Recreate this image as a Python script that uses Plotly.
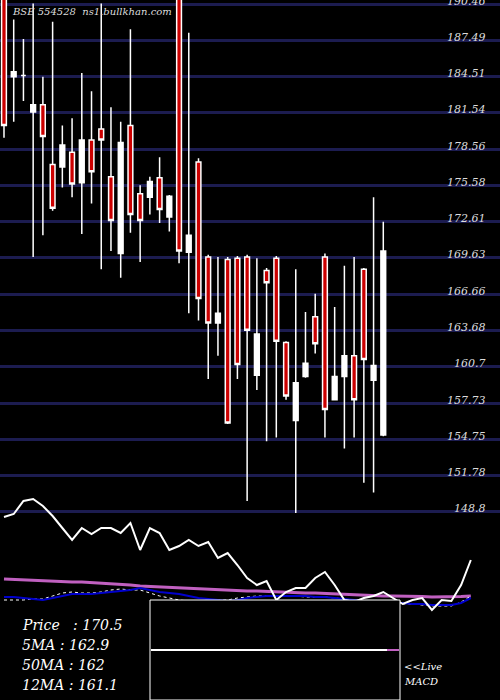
import plotly.graph_objects as go

opens  = [191,184.5,184.6,181.6,182.2,177.3,177.1,178.3,175.8,179.3,180.2,176.3,170.0,180.5,174.9,174.6,176.2,173.0,191,170.1,
          177.5,169.7,164.3,169.5,169.6,169.7,160.0,168.6,169.6,162.7,156.3,159.9,164.8,169.7,158.0,159.9,161.6,168.7,159.6,155.1]
closes = [180.5,184.9,184.6,182.2,179.6,173.7,178.9,175.7,179.3,176.7,179.3,172.7,179.1,173.2,172.7,175.9,173.6,174.7,170.2,171.5,
          166.3,164.3,165.1,156.1,160.9,163.7,163.4,167.6,162.8,158.3,159.4,161.0,162.6,157.2,159.9,161.6,158.0,161.3,160.8,170.2]
highs  = [193,189.2,187.6,190.5,184.5,189,180.5,181.1,184.8,183.3,190.5,182,180.8,188.4,175.6,176.3,177.9,174.8,193,188.1,
          177.8,169.9,169.7,169.7,169.8,169.9,169.6,168.8,169.8,162.8,168.7,165.2,166.7,170.0,165.6,169.0,169.7,168.8,174.6,172.6]
lows   = [179.5,180.8,182.5,169.7,171.5,173.5,175.4,174.6,171.6,174.1,168.7,170.2,168.0,171.7,169.3,173.2,172.5,171.8,169.2,165.1,
          164.5,159.7,161.6,156.0,159.7,149.7,158.8,154.6,154.9,158.0,148.7,159.8,161.8,154.9,158.0,154.0,154.9,151.2,150.4,155.0]
ticks = [190.46,187.49,184.51,181.54,178.56,175.58,172.61,169.63,166.66,163.68,160.7,157.73,154.75,151.78,148.8]

# lower indicator panel (values in panel units, larger = lower)
ind_x = list(range(49))
osc_white = [517,514,501,499,506,516,528,540,528,534,528,528,533,523,550,528,533,550,546,540,546,542,558,553,565,578,585,581,600,592,
             588,588,578,572,585,600,602,598,596,592,598,604,600,598,610,600,601,585,560]
ma_magenta = [579,579.5,580,580.5,581,581.5,582,582,582,582.5,583,583.5,584,585,586,586.5,587,587.5,588,588.5,589,589.5,590,590,590.5,
              591,591,591.5,592,592,592.5,593,593,593.5,594,594.5,595,595,595.5,596,596,596,596.5,596.5,597,597,597,596.5,596]
ma_blue = [597,597,598,599,600,598,596,594,594,594,593,592,591,590,588,590,592,593,594,596,598,599,600,601,600,598,597,596,596,596,
           596,596,597,597,598,599,600,601,601,602,603,603,604,604,605,605,605,603,598]
sig_dotted = [600,600,600,599,599,596,593,592,593,593,592,590,589,590,590,593,596,598,600,601,601,600,600,600,598,597,596,596,596,596,
              596,597,597,597,598,599,600,601,602,602,603,604,604,605,606,606,606,602,596]

labels = ["Price   : 170.5", "5MA : 162.9", "50MA : 162", "12MA : 161.1"]

fig = go.Figure()
fig.add_trace(go.Candlestick(x=list(range(len(opens))), open=opens, high=highs, low=lows, close=closes,
    increasing=dict(line=dict(color="white", width=1.5), fillcolor="white"),
    decreasing=dict(line=dict(color="white", width=1.5), fillcolor="#cc0000"),
    whiskerwidth=0, showlegend=False, hoverinfo="skip"))
fig.add_trace(go.Scatter(x=ind_x, y=ma_magenta, yaxis="y2", mode="lines", line=dict(color="#c060c0", width=3), showlegend=False))
fig.add_trace(go.Scatter(x=ind_x, y=sig_dotted, yaxis="y2", mode="lines", line=dict(color="white", width=1, dash="dot"), showlegend=False))
fig.add_trace(go.Scatter(x=ind_x, y=ma_blue, yaxis="y2", mode="lines", line=dict(color="#0000cc", width=2), showlegend=False))
fig.add_trace(go.Scatter(x=ind_x, y=osc_white, yaxis="y2", mode="lines", line=dict(color="white", width=2), showlegend=False))

serif = "DejaVu Serif"
ann = [dict(x=10/500, y=1-12/700, xref="paper", yref="paper", xanchor="left", yanchor="middle", showarrow=False,
            text="BSE 554528  ns1.bullkhan.com", font=dict(family=serif, size=10, color="#dddddd", style="italic"))]
for t in ticks:
    ann.append(dict(x=488/500, y=t, xref="paper", yref="y", xanchor="right", yanchor="middle", yshift=3, showarrow=False,
                    text=str(t), font=dict(family=serif, size=11, color="#dddddd", style="italic")))
for i, t in enumerate(labels):
    ann.append(dict(x=20/500, y=1-(625+20*i)/700, xref="paper", yref="paper", xanchor="left", yanchor="middle",
                    showarrow=False, text=t, font=dict(family=serif, size=14, color="white", style="italic")))
ann.append(dict(x=402/500, y=1-666/700, xref="paper", yref="paper", xanchor="left", yanchor="middle", showarrow=False,
                text="<<Live", font=dict(family=serif, size=10, color="white", style="italic")))
ann.append(dict(x=402/500, y=1-681/700, xref="paper", yref="paper", xanchor="left", yanchor="middle", showarrow=False,
                text="MACD", font=dict(family=serif, size=10, color="white", style="italic")))

shapes = [
    dict(type="rect", xref="paper", yref="paper", x0=150/500, x1=400/500, y0=0, y1=1-600/700,
         fillcolor="black", line=dict(color="white", width=1), layer="above"),
    dict(type="line", xref="paper", yref="paper", x0=151/500, x1=387/500, y0=1-650/700, y1=1-650/700,
         line=dict(color="white", width=2), layer="above"),
    dict(type="line", xref="paper", yref="paper", x0=387/500, x1=399/500, y0=1-650/700, y1=1-650/700,
         line=dict(color="#c060c0", width=2), layer="above"),
]

fig.update_layout(
    width=500, height=700, margin=dict(l=0, r=0, t=0, b=0, autoexpand=False),
    paper_bgcolor="black", plot_bgcolor="black",
    xaxis=dict(range=[-0.41, 51.0], visible=False, rangeslider=dict(visible=False), automargin=False),
    yaxis=dict(range=[133.37, 190.79], tickvals=ticks, showticklabels=False, automargin=False,
               showgrid=True, gridcolor="#1c1c50", gridwidth=3, zeroline=False),
    yaxis2=dict(range=[700, 0], overlaying="y", visible=False),
    annotations=ann, shapes=shapes, showlegend=False,
)
fig.write_html("out.html", config={"displayModeBar": False},
               post_script="document.body.style.margin='0';document.body.style.background='black';")
